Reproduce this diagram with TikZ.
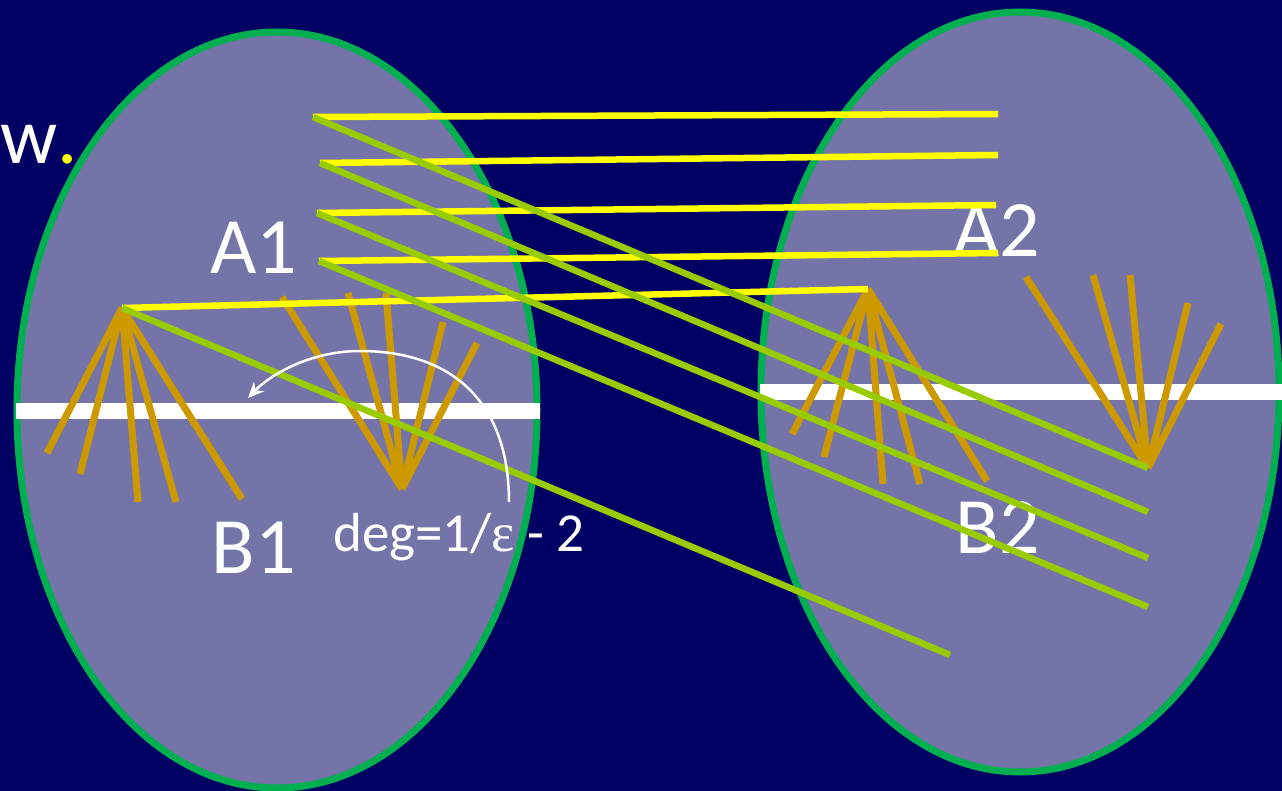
\documentclass[tikz,border=0pt]{standalone}
\definecolor{nightblue}{RGB}{0, 0, 100}
\definecolor{setfill}{RGB}{116, 116, 168}
\definecolor{rimgreen}{RGB}{0, 176, 80}
\definecolor{edgeyellow}{RGB}{255, 255, 0}
\definecolor{edgelime}{RGB}{153, 204, 0}
\definecolor{fangold}{RGB}{204, 153, 0}
\usepackage{fontspec}
\setmainfont{Carlito}
\newfontfamily\greekfont{Liberation Serif}
\usepackage{tikz}
\usetikzlibrary{arrows.meta, positioning}

\begin{document}
\begin{tikzpicture}[x=1pt, y=-1pt,
    setbox/.style={draw=rimgreen, fill=setfill, line width=7pt},
    cutbar/.style={white, line width=16pt},
    yedge/.style={edgeyellow, line width=6.5pt},
    gedge/.style={edgelime, line width=6.5pt},
    fan/.style={fangold, line width=7pt},
    biglabel/.style={white, font=\fontsize{80}{82}\selectfont, inner sep=0pt}]
    \useasboundingbox (0,0) rectangle (1282,791);
    \fill[nightblue] (0,0) rectangle (1282,791);
    % the two sides
    \draw[setbox] (277,410) ellipse [x radius=260pt, y radius=378pt];
    \draw[setbox] (1020,392) ellipse [x radius=259pt, y radius=380pt];
    \draw[cutbar] (16,411) -- (540,411);
    \draw[cutbar] (760,392) -- (1282,392);
    % labels
    \node[biglabel, anchor=base west] (w) at (0,164) {w{\color{edgeyellow}.}};
    \node[biglabel] (A1) at (254,248) {A1};
    \node[biglabel] (B1) at (254,548) {B1};
    \node[biglabel] (A2) at (997,231) {A2};
    \node[biglabel] (B2) at (998,528) {B2};
    \node[white, font=\fontsize{55}{57}\selectfont, anchor=base west, inner sep=0pt] (deg) at (333,551) {deg=1/{\greekfont ε} - 2};
    % fan vertices
    \coordinate (u1) at (122,308);
    \coordinate (u2) at (402,489);
    \coordinate (v1) at (868,289);
    \coordinate (v2) at (1148,468);
    % fans
    \draw[fan] (u1) -- (47,453)  (u1) -- (80,474)  (u1) -- (138,502) (u1) -- (176,502) (u1) -- (242,499);
    \draw[fan] (u2) -- (282,297) (u2) -- (348,293) (u2) -- (386,293) (u2) -- (443,322) (u2) -- (477,343);
    \draw[fan] (v1) -- (792,434) (v1) -- (824,457) (v1) -- (883,484) (v1) -- (920,484) (v1) -- (987,481);
    \draw[fan] (v2) -- (1026,277) (v2) -- (1093,275) (v2) -- (1130,275) (v2) -- (1188,303) (v2) -- (1221,324);
    % left ends of the edges
    \coordinate (a1) at (313,117);
    \coordinate (a2) at (320,163);
    \coordinate (a3) at (317,213);
    \coordinate (a4) at (319,261);
    % yellow edges
    \draw[yedge] (a1) -- (998,114);
    \draw[yedge] (a2) -- (998,155);
    \draw[yedge] (a3) -- (996,205);
    \draw[yedge] (a4) -- (998,253);
    \draw[yedge] (u1) -- (v1);
    % green edges
    \draw[gedge] (a1) -- (v2);
    \draw[gedge] (a2) -- (1148,512);
    \draw[gedge] (a3) -- (1148,558);
    \draw[gedge] (a4) -- (1148,607);
    \draw[gedge] (u1) -- (950,655);
    % degree arrow
    \draw[white, line width=2.5pt, -{Stealth[length=16pt, width=14pt]}] (509,502) .. controls (509,400) and (450,351) .. (360,351) .. controls (310,351) and (270,375) .. (248,398);
\end{tikzpicture}
\end{document}
